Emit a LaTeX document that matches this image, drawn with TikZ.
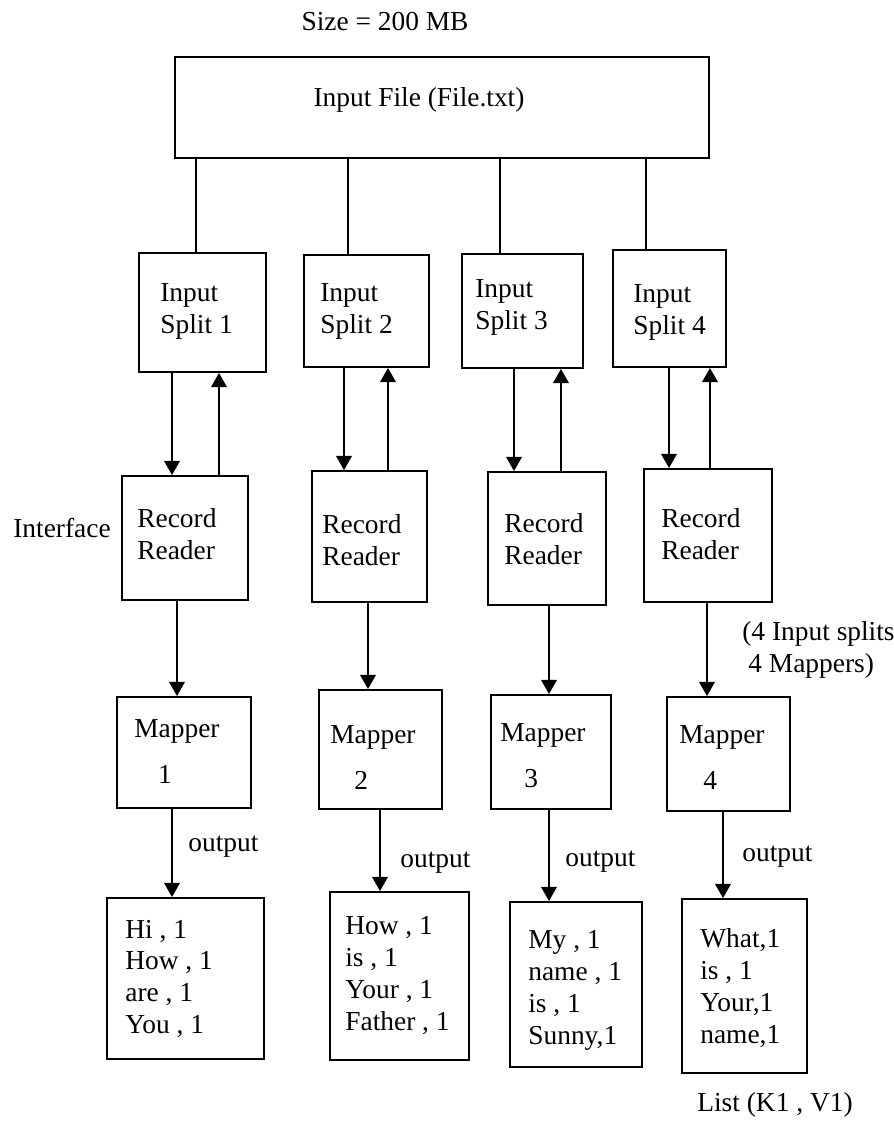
\documentclass[tikz,border=0pt]{standalone}
\usepackage{fontspec}
\setmainfont{Liberation Serif}
\usetikzlibrary{arrows.meta,fit}
\begin{document}
\begin{tikzpicture}[x=0.02cm,y=-0.02cm,
  box/.style={draw,line width=1.1pt,inner sep=0pt,fill=none},
  txt/.style={inner sep=0pt,anchor=west,align=left,font=\fontsize{15.6}{18.2}\selectfont},
  ctxt/.style={inner sep=0pt,align=center,font=\fontsize{15.6}{18.2}\selectfont},
  conn/.style={line width=1pt},
  arr/.style={line width=1.1pt,-{Triangle[width=8.8pt,length=8pt]}}]
\useasboundingbox (0,0) rectangle (893,1131);
% boxes
\node[box,fit={(175,57) (709,158)}] (in) {};
\node[box,fit={(139,253) (266,372)}] (s1) {};
\node[box,fit={(304,255) (429,367)}] (s2) {};
\node[box,fit={(462,254) (583,368)}] (s3) {};
\node[box,fit={(613,250) (726,367)}] (s4) {};
\node[box,fit={(122,476) (248,600)}] (r1) {};
\node[box,fit={(312,471) (427,602)}] (r2) {};
\node[box,fit={(488,472) (606,605)}] (r3) {};
\node[box,fit={(644,469) (772,602)}] (r4) {};
\node[box,fit={(117,697) (251,808)}] (m1) {};
\node[box,fit={(319,690) (442,809)}] (m2) {};
\node[box,fit={(491,695) (611,809)}] (m3) {};
\node[box,fit={(667,697) (790,811)}] (m4) {};
\node[box,fit={(107,898) (264,1059)}] (o1) {};
\node[box,fit={(330,892) (469,1060)}] (o2) {};
\node[box,fit={(510,902) (642,1067)}] (o3) {};
\node[box,fit={(682,899) (807,1073)}] (o4) {};
% texts
\node[ctxt] (size) at (385,22) {Size = 200 MB};
\node[ctxt] (intxt) at (419,100) {Input File (File.txt)};
\node[txt] (s1t) at (160,311) {Input\\Split 1};
\node[txt] (s2t) at (320,311) {Input\\Split 2};
\node[txt] (s3t) at (475,307) {Input\\Split 3};
\node[txt] (s4t) at (633,312) {Input\\Split 4};
\node[txt] (r1t) at (137,534) {Record\\Reader};
\node[txt] (r2t) at (322,540) {Record\\Reader};
\node[txt] (r3t) at (504,539) {Record\\Reader};
\node[txt] (r4t) at (661,534) {Record\\Reader};
\node[txt] (m1t) at (134,752) {Mapper\\[8pt]\hspace*{13.6pt}1};
\node[txt] (m2t) at (330,758) {Mapper\\[8pt]\hspace*{13.6pt}2};
\node[txt] (m3t) at (500,756) {Mapper\\[8pt]\hspace*{13.6pt}3};
\node[txt] (m4t) at (679,758) {Mapper\\[8pt]\hspace*{13.6pt}4};
\node[txt] (o1t) at (125,979) {Hi , 1\\How , 1\\are , 1\\You , 1};
\node[txt] (o2t) at (345,976) {How , 1\\is , 1\\Your , 1\\Father , 1};
\node[txt] (o3t) at (528,990) {My , 1\\name , 1\\is , 1\\Sunny,1};
\node[txt] (o4t) at (700,988) {What,1\\is , 1\\Your,1\\name,1};
\node[ctxt] (iface) at (62,528) {Interface};
\node[txt] (note) at (742,650) {(4 Input splits\\\hspace*{3.4pt}4 Mappers)};
\node[ctxt] (list) at (775,1105) {List (K1 , V1)};
\node[txt] (l1) at (188,847) {output};
\node[txt] (l2) at (400,863) {output};
\node[txt] (l3) at (565,862) {output};
\node[txt] (l4) at (742,857) {output};
% connectors from input file
\draw[conn] (in.south -| 196,0) -- (s1.north -| 196,0);
\draw[conn] (in.south -| 348,0) -- (s2.north -| 348,0);
\draw[conn] (in.south -| 500,0) -- (s3.north -| 500,0);
\draw[conn] (in.south -| 646,0) -- (s4.north -| 646,0);
% split <-> record reader
\draw[arr] (s1.south -| 172,0) -- (r1.north -| 172,0);
\draw[arr] (r1.north -| 219,0) -- (s1.south -| 219,0);
\draw[arr] (s2.south -| 344,0) -- (r2.north -| 344,0);
\draw[arr] (r2.north -| 388,0) -- (s2.south -| 388,0);
\draw[arr] (s3.south -| 514,0) -- (r3.north -| 514,0);
\draw[arr] (r3.north -| 561,0) -- (s3.south -| 561,0);
\draw[arr] (s4.south -| 669,0) -- (r4.north -| 669,0);
\draw[arr] (r4.north -| 710,0) -- (s4.south -| 710,0);
% record reader -> mapper
\draw[arr] (r1.south -| 177,0) -- (m1.north -| 177,0);
\draw[arr] (r2.south -| 368,0) -- (m2.north -| 368,0);
\draw[arr] (r3.south -| 549,0) -- (m3.north -| 549,0);
\draw[arr] (r4.south -| 707,0) -- (m4.north -| 707,0);
% mapper -> output
\draw[arr] (m1.south -| 172,0) -- (o1.north -| 172,0);
\draw[arr] (m2.south -| 380,0) -- (o2.north -| 380,0);
\draw[arr] (m3.south -| 549,0) -- (o3.north -| 549,0);
\draw[arr] (m4.south -| 723,0) -- (o4.north -| 723,0);
\end{tikzpicture}
\end{document}
